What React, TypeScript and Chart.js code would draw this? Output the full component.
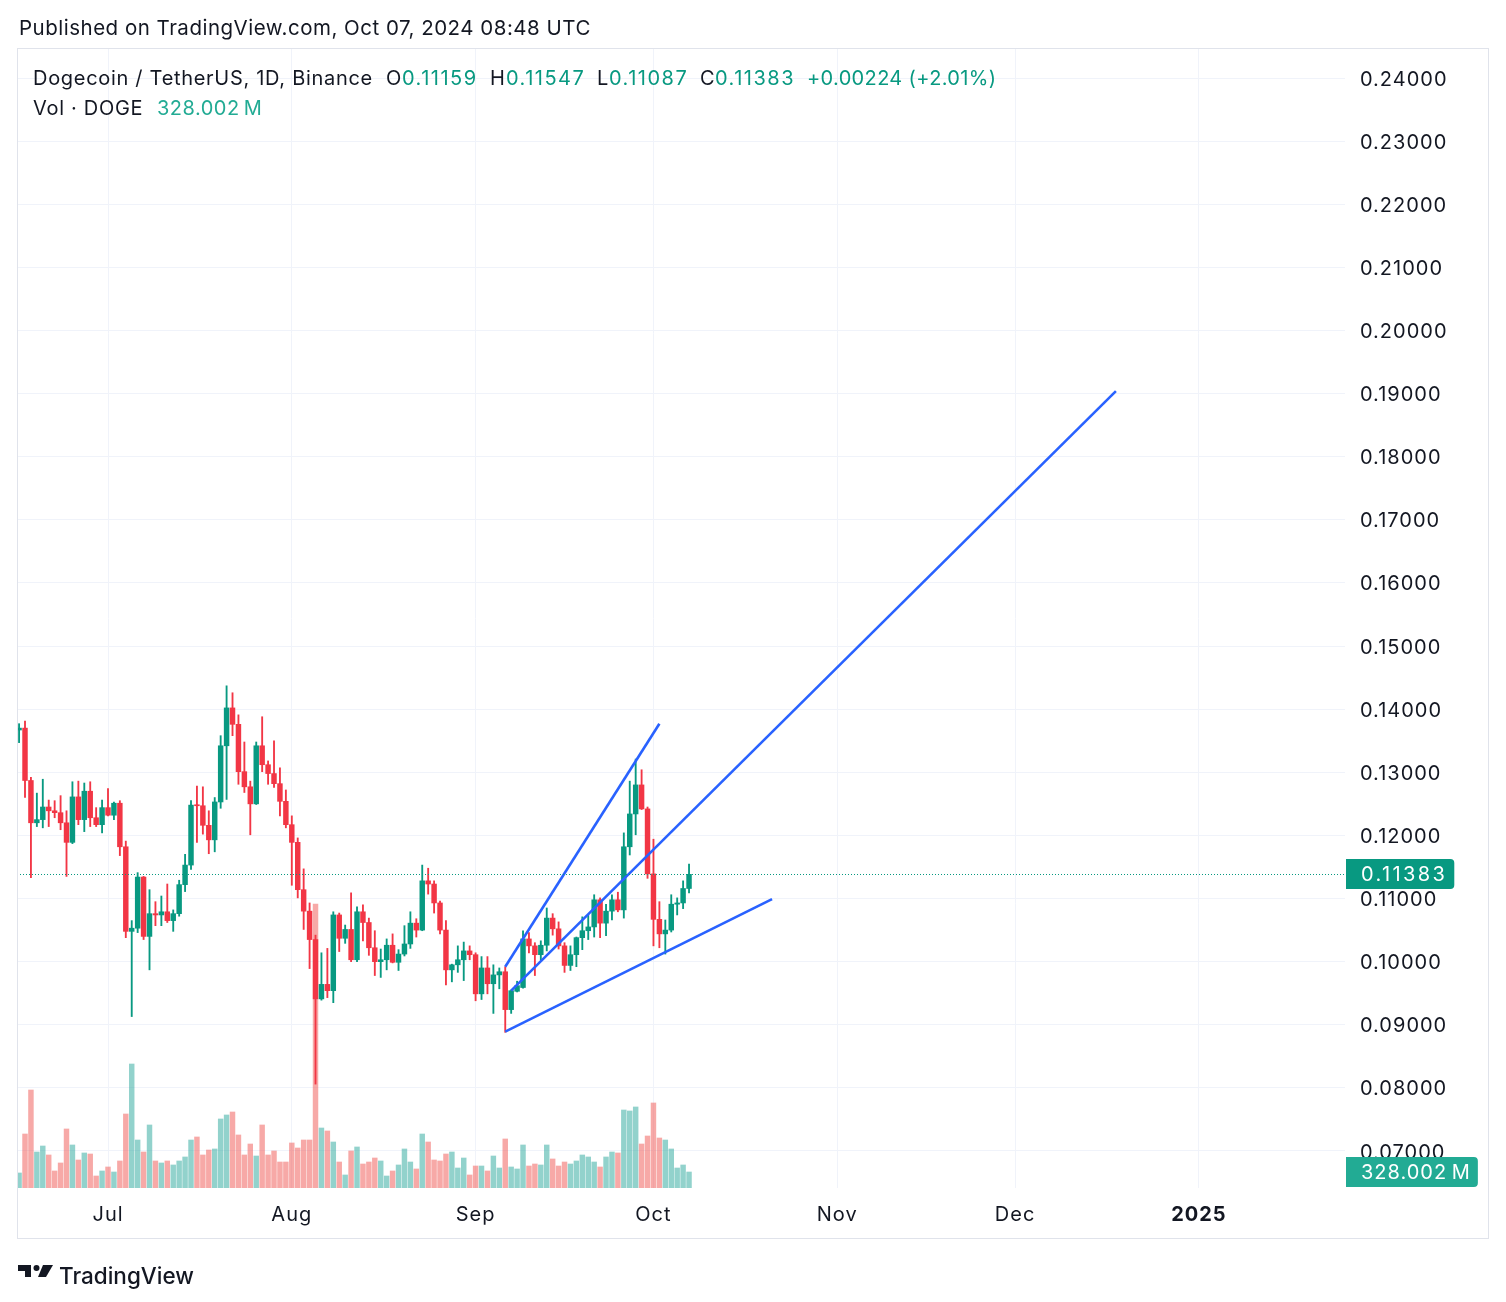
import React, { useEffect, useRef } from "react";
import { Chart, registerables } from "chart.js";

Chart.register(...registerables);

// ---------------- DATA ----------------
const SYMBOL = "Dogecoin / TetherUS, 1D, Binance";
const PUBLISHED = "Published on TradingView.com, Oct 07, 2024 08:48 UTC";
const FIRST_DATE = "2024-06-16";
const REF_DATE = "2024-07-01";

const OPEN = [
  0.1367, 0.1370, 0.1287, 0.1220, 0.1225, 0.1245, 0.1239, 0.1236, 0.1220, 0.1189, 0.1261, 0.1225, 0.1270, 0.1228, 0.1217,
  0.1244, 0.1232, 0.1251, 0.1182, 0.1048, 0.1053, 0.1134, 0.1040, 0.1076, 0.1074, 0.1079, 0.1065, 0.1076, 0.1122, 0.1153,
  0.1248, 0.1247, 0.1216, 0.1193, 0.1253, 0.1342, 0.1402, 0.1376, 0.1301, 0.1277, 0.1250, 0.1342, 0.1312, 0.1298, 0.1282, 0.1254,
  0.1217, 0.1189, 0.1114, 0.1080, 0.1035, 0.0941, 0.0964, 0.0954, 0.1074, 0.1037, 0.1051, 0.1003, 0.1079, 0.1062, 0.1022,
  0.1000, 0.1003, 0.1026, 0.0999, 0.1012, 0.1028, 0.1061, 0.1050, 0.1128, 0.1123, 0.1093, 0.1050, 0.0987, 0.0995, 0.1003, 0.1017,
  0.1011, 0.0949, 0.0990, 0.0965, 0.0979, 0.0984, 0.0924, 0.0953, 0.0959, 0.1036, 0.1025, 0.1011, 0.1026, 0.1069, 0.1052,
  0.1025, 0.0994, 0.1011, 0.1038, 0.1049, 0.1055, 0.1098, 0.1061, 0.1080, 0.1098, 0.1082, 0.1182, 0.1234, 0.1280, 0.1242,
  0.1139, 0.1067, 0.1044, 0.1050, 0.1091, 0.1093, 0.11159,
];
const HIGH = [
  0.1377, 0.1381, 0.1292, 0.1267, 0.1289, 0.1256, 0.1255, 0.1263, 0.1239, 0.1285, 0.1286, 0.1283, 0.1285, 0.1244, 0.1256,
  0.1274, 0.1253, 0.1255, 0.1191, 0.1065, 0.1141, 0.1135, 0.1114, 0.1095, 0.1104, 0.1123, 0.1082, 0.1129, 0.1170, 0.1255,
  0.1278, 0.1277, 0.1239, 0.1260, 0.1358, 0.1437, 0.1426, 0.1391, 0.1348, 0.1286, 0.1348, 0.1388, 0.1318, 0.1350, 0.1307, 0.1272,
  0.1231, 0.1196, 0.1147, 0.1093, 0.1042, 0.1014, 0.1021, 0.1079, 0.1077, 0.1058, 0.1109, 0.1087, 0.1090, 0.1069, 0.1049,
  0.1020, 0.1036, 0.1044, 0.1019, 0.1057, 0.1079, 0.1068, 0.1153, 0.1148, 0.1128, 0.1096, 0.1065, 0.0996, 0.1025, 0.1031, 0.1025,
  0.1014, 0.1008, 0.1008, 0.0995, 0.0990, 0.0992, 0.0955, 0.0969, 0.1049, 0.1046, 0.1030, 0.1033, 0.1085, 0.1076, 0.1063,
  0.1030, 0.1025, 0.1039, 0.1071, 0.1074, 0.1106, 0.1101, 0.1091, 0.1106, 0.1110, 0.1204, 0.1286, 0.1321, 0.1304, 0.1245,
  0.1194, 0.1095, 0.1066, 0.1106, 0.1101, 0.1128, 0.11547,
];
const LOW = [
  0.1347, 0.1260, 0.1133, 0.1214, 0.1212, 0.1214, 0.1228, 0.1209, 0.1135, 0.1187, 0.1217, 0.1206, 0.1214, 0.1214, 0.1204,
  0.1231, 0.1225, 0.1168, 0.1038, 0.0913, 0.1046, 0.1035, 0.0987, 0.1057, 0.1057, 0.1062, 0.1048, 0.1072, 0.1111, 0.1146,
  0.1189, 0.1202, 0.1171, 0.1174, 0.1243, 0.1257, 0.1358, 0.1281, 0.1268, 0.1201, 0.1249, 0.1301, 0.1281, 0.1276, 0.1231, 0.1212,
  0.1121, 0.1101, 0.1051, 0.0989, 0.0806, 0.0939, 0.0943, 0.0935, 0.1016, 0.1029, 0.1000, 0.1000, 0.1033, 0.1010, 0.0978,
  0.0975, 0.0987, 0.0998, 0.0986, 0.1009, 0.1021, 0.1039, 0.1049, 0.1107, 0.1077, 0.1044, 0.0963, 0.0968, 0.0983, 0.0970, 0.1003,
  0.0938, 0.0940, 0.0949, 0.0918, 0.0957, 0.0888, 0.0918, 0.0952, 0.0958, 0.1014, 0.0978, 0.1003, 0.1017, 0.1042, 0.1020,
  0.0983, 0.0986, 0.0992, 0.1019, 0.1035, 0.1039, 0.1038, 0.1041, 0.1066, 0.1079, 0.1069, 0.1169, 0.1201, 0.1241, 0.1132,
  0.1025, 0.1022, 0.1012, 0.1047, 0.1074, 0.1084, 0.11087,
];
const CLOSE = [
  0.1370, 0.1287, 0.1220, 0.1225, 0.1245, 0.1239, 0.1236, 0.1220, 0.1189, 0.1261, 0.1225, 0.1270, 0.1228, 0.1217, 0.1244,
  0.1232, 0.1251, 0.1182, 0.1048, 0.1053, 0.1134, 0.1040, 0.1076, 0.1074, 0.1079, 0.1065, 0.1076, 0.1122, 0.1153, 0.1248,
  0.1247, 0.1216, 0.1193, 0.1253, 0.1342, 0.1402, 0.1376, 0.1301, 0.1277, 0.1250, 0.1342, 0.1312, 0.1298, 0.1282, 0.1254, 0.1217,
  0.1189, 0.1114, 0.1080, 0.1035, 0.0941, 0.0964, 0.0954, 0.1074, 0.1037, 0.1051, 0.1003, 0.1079, 0.1062, 0.1022, 0.1000,
  0.1003, 0.1026, 0.0999, 0.1012, 0.1028, 0.1061, 0.1050, 0.1128, 0.1123, 0.1093, 0.1050, 0.0987, 0.0995, 0.1003, 0.1017, 0.1011,
  0.0949, 0.0990, 0.0965, 0.0979, 0.0984, 0.0924, 0.0954, 0.0962, 0.1036, 0.1025, 0.1011, 0.1026, 0.1069, 0.1052, 0.1025,
  0.0994, 0.1011, 0.1038, 0.1049, 0.1055, 0.1098, 0.1061, 0.1080, 0.1098, 0.1082, 0.1182, 0.1234, 0.1280, 0.1242, 0.1139,
  0.1067, 0.1044, 0.1050, 0.1091, 0.1093, 0.11159, 0.11383,
];
// Volume in millions of DOGE
const VOLUME_M = [
  308, 1107, 2009, 738, 861, 677, 349, 513, 1210, 882, 574, 718, 697, 246, 349,
  431, 328, 554, 1517, 2542, 984, 738, 1292, 554, 513, 554, 472, 554, 636, 984,
  1046, 677, 779, 800, 1415, 1497, 1558, 1087, 677, 902, 656, 1292, 677, 759, 533, 533,
  923, 820, 984, 984, 5822, 1230, 1169, 943, 533, 267, 759, 841, 492, 533, 615,
  554, 246, 349, 472, 800, 533, 390, 1107, 943, 574, 554, 697, 738, 410, 615, 267,
  451, 451, 349, 656, 410, 1005, 431, 390, 882, 451, 492, 472, 882, 595, 451,
  533, 492, 554, 677, 636, 533, 431, 636, 738, 718, 1599, 1579, 1661, 902, 1066,
  1743, 1025, 984, 800, 410, 472, 328.002,
];

const PRICE_TICKS = [0.07, 0.08, 0.09, 0.1, 0.11, 0.12, 0.13, 0.14, 0.15, 0.16, 0.17, 0.18, 0.19, 0.2, 0.21, 0.22, 0.23, 0.24];
const MONTH_TICKS = ["2024-07-01", "2024-08-01", "2024-09-01", "2024-10-01", "2024-11-01", "2024-12-01", "2025-01-01"];
const MONTH_LABELS = ["Jul", "Aug", "Sep", "Oct", "Nov", "Dec", "2025"];

const TRENDLINE_UPPER = [
  { date: "2024-09-06", price: 0.0992 },
  { date: "2024-10-02", price: 0.1377 },
];
const TRENDLINE_MIDDLE = [
  { date: "2024-09-07", price: 0.0954 },
  { date: "2024-12-18", price: 0.1904 },
];
const TRENDLINE_LOWER = [
  { date: "2024-09-06", price: 0.0889 },
  { date: "2024-10-21", price: 0.1099 },
];

// ---------------- STYLE / VIEW ----------------
const FONT = 'Inter, "Noto Sans", Roboto, sans-serif';
const TEXT = "#131722";
const UP = "#089981";
const DOWN = "#f23645";
const VOL_UP = "rgba(38,166,154,0.5)";
const VOL_DOWN = "rgba(239,83,80,0.5)";
const VOL_TAG = "#22ab94";
const LINE_BLUE = "#2962ff";
const GRID = "#f0f3fa";

const X_MIN = -15.35;
const X_MAX = 208.64;
const Y_MIN = 0.0641379;
const Y_MAX = 0.2445946;
const VOL_MAX = 23350;

const DAY = 86400000;
const dayOf = (d: string) => (Date.parse(d) - Date.parse(REF_DATE)) / DAY;

function drawTag(ctx: CanvasRenderingContext2D, x: number, y: number, text: string, color: string, spacing: number) {
  ctx.font = `20px ${FONT}`;
  (ctx as any).letterSpacing = `${spacing}px`;
  const w = ctx.measureText(text).width + 22;
  const h = 30;
  const top = Math.round(y - h / 2);
  ctx.fillStyle = color;
  ctx.beginPath();
  (ctx as any).roundRect(x, top, w, h, [0, 4, 4, 0]);
  ctx.fill();
  ctx.fillStyle = "#ffffff";
  ctx.textAlign = "left";
  ctx.textBaseline = "middle";
  ctx.fillText(text, x + 15, top + h / 2 + 1);
}

const overlayPlugin = {
  id: "tvOverlay",
  beforeDraw(chart: any) {
    (chart.ctx as any).letterSpacing = "1px";
  },
  afterDatasetsDraw(chart: any) {
    const { ctx, chartArea, scales } = chart;
    const last = CLOSE.length - 1;
    const py = Math.round(scales.y.getPixelForValue(CLOSE[last])) + 0.5;
    ctx.save();
    ctx.strokeStyle = UP;
    ctx.lineWidth = 1;
    ctx.setLineDash([1, 2]);
    ctx.beginPath();
    ctx.moveTo(chartArea.left, py);
    ctx.lineTo(chartArea.right, py);
    ctx.stroke();
    ctx.restore();
  },
  afterDraw(chart: any) {
    const { ctx, chartArea, scales } = chart;
    const last = CLOSE.length - 1;
    ctx.save();
    const py = scales.y.getPixelForValue(CLOSE[last]);
    drawTag(ctx, chartArea.right + 1, py, CLOSE[last].toFixed(5), UP, 2.4);
    const vy = scales.yv.getPixelForValue(VOLUME_M[last]);
    drawTag(ctx, chartArea.right + 1, vy, VOLUME_M[last].toFixed(3) + "\u202FM", VOL_TAG, 1);
    ctx.restore();
  },
};

function Txt(props: {
  x: number;
  base: number;
  size: number;
  color?: string;
  weight?: number;
  spacing?: number;
  children: any;
}) {
  const { x, base, size, color = TEXT, weight = 400, spacing = 0, children } = props;
  return (
    <div
      style={{
        position: "absolute",
        left: x,
        top: base - 0.8633 * size,
        fontSize: size,
        lineHeight: `${size}px`,
        color,
        fontWeight: weight,
        letterSpacing: spacing,
        whiteSpace: "nowrap",
        fontFamily: FONT,
      }}
    >
      {children}
    </div>
  );
}

export default function App() {
  const ref = useRef<HTMLCanvasElement>(null);

  useEffect(() => {
    const start = dayOf(FIRST_DATE);
    const xs = OPEN.map((_, i) => start + i);
    const up = CLOSE.map((c, i) => c >= OPEN[i]);
    const line = (pts: { date: string; price: number }[]) => ({
      type: "line" as const,
      data: pts.map((p) => ({ x: dayOf(p.date), y: p.price })),
      borderColor: LINE_BLUE,
      borderWidth: 2.6,
      pointRadius: 0,
      fill: false,
      order: 0,
      yAxisID: "y",
      xAxisID: "x",
    });

    const chart = new Chart(ref.current as HTMLCanvasElement, {
      type: "bar",
      data: {
        datasets: [
          {
            type: "bar",
            data: xs.map((x, i) => ({ x, y: VOLUME_M[i] })) as any,
            backgroundColor: up.map((u) => (u ? VOL_UP : VOL_DOWN)),
            barThickness: 4.8,
            grouped: false,
            order: 3,
            yAxisID: "yv",
            xAxisID: "x",
          },
          {
            type: "bar",
            data: xs.map((x, i) => ({ x, y: [LOW[i], HIGH[i]] })) as any,
            backgroundColor: up.map((u) => (u ? UP : DOWN)),
            barThickness: 1.2,
            grouped: false,
            order: 2,
            yAxisID: "y",
            xAxisID: "x",
          },
          {
            type: "bar",
            data: xs.map((x, i) => ({ x, y: [OPEN[i], CLOSE[i]] })) as any,
            backgroundColor: up.map((u) => (u ? UP : DOWN)),
            barThickness: 4.8,
            minBarLength: 1,
            grouped: false,
            order: 1,
            yAxisID: "y",
            xAxisID: "x",
          },
          line(TRENDLINE_UPPER),
          line(TRENDLINE_MIDDLE),
          line(TRENDLINE_LOWER),
        ] as any,
      },
      options: {
        animation: false,
        responsive: false,
        devicePixelRatio: 1,
        events: [],
        layout: { padding: { left: 17, top: 49, right: 18, bottom: 64 } },
        plugins: { legend: { display: false }, tooltip: { enabled: false } },
        scales: {
          x: {
            type: "linear",
            min: X_MIN,
            max: X_MAX,
            offset: false,
            grid: { color: GRID, drawTicks: false, offset: false, lineWidth: 1 },
            border: { display: false },
            afterBuildTicks: (s: any) => {
              s.ticks = MONTH_TICKS.map((d) => ({ value: dayOf(d) }));
            },
            afterFit: (s: any) => {
              s.height = 50;
            },
            ticks: {
              autoSkip: false,
              maxRotation: 0,
              color: TEXT,
              padding: 15,
              callback: (_v: any, i: number) => MONTH_LABELS[i],
              font: (c: any) => ({ family: FONT, size: 20, weight: c.index === 6 ? "bold" : "normal" }),
            },
          },
          y: {
            type: "linear",
            position: "right",
            min: Y_MIN,
            max: Y_MAX,
            grid: { color: GRID, drawTicks: false, lineWidth: 1 },
            border: { display: false },
            afterBuildTicks: (s: any) => {
              s.ticks = PRICE_TICKS.map((v) => ({ value: v }));
            },
            afterFit: (s: any) => {
              s.width = 143;
            },
            ticks: {
              color: TEXT,
              padding: 15,
              labelOffset: 1.5,
              font: { family: FONT, size: 20 },
              callback: (v: any) => Number(v).toFixed(5),
            },
          },
          yv: {
            type: "linear",
            display: false,
            min: 0,
            max: VOL_MAX,
          },
        },
      } as any,
      plugins: [overlayPlugin],
    });
    return () => chart.destroy();
  }, []);

  const lastI = CLOSE.length - 1;
  const chg = CLOSE[lastI] - CLOSE[lastI - 1];
  const chgPct = (chg / CLOSE[lastI - 1]) * 100;
  const L1 = 85;
  const L2 = 115;

  return (
    <div
      style={{
        position: "absolute",
        left: 0,
        top: 0,
        width: 1506,
        height: 1302,
        background: "#ffffff",
        overflow: "hidden",
        fontFamily: FONT,
      }}
    >
      <canvas ref={ref} width={1506} height={1302} style={{ position: "absolute", left: 0, top: 0 }} />
      <div
        style={{
          position: "absolute",
          left: 17,
          top: 48,
          width: 1472,
          height: 1191,
          boxSizing: "border-box",
          border: "1px solid #e0e3eb",
          pointerEvents: "none",
        }}
      />
      <Txt x={19} base={36} size={20.5} spacing={0.5}>{PUBLISHED}</Txt>

      <Txt x={33} base={L1} size={20} spacing={0.7}>{SYMBOL}</Txt>
      <Txt x={386} base={L1} size={20}>O</Txt>
      <Txt x={402} base={L1} size={20} color={UP} spacing={1.5}>{OPEN[lastI].toFixed(5)}</Txt>
      <Txt x={490} base={L1} size={20}>H</Txt>
      <Txt x={506} base={L1} size={20} color={UP} spacing={1.5}>{HIGH[lastI].toFixed(5)}</Txt>
      <Txt x={597} base={L1} size={20}>L</Txt>
      <Txt x={609} base={L1} size={20} color={UP} spacing={1.5}>{LOW[lastI].toFixed(5)}</Txt>
      <Txt x={700} base={L1} size={20}>C</Txt>
      <Txt x={715} base={L1} size={20} color={UP} spacing={1.5}>{CLOSE[lastI].toFixed(5)}</Txt>
      <Txt x={807} base={L1} size={20} color={UP} spacing={0.35}>
        {"+" + chg.toFixed(5) + " (+" + chgPct.toFixed(2) + "%)"}
      </Txt>

      <Txt x={33} base={L2} size={20} spacing={0.7}>Vol · DOGE</Txt>
      <Txt x={157} base={L2} size={20} color={VOL_TAG} spacing={0.5}>
        {VOLUME_M[lastI].toFixed(3) + "\u202FM"}
      </Txt>

      <svg width={40} height={20} viewBox="0 0 40 20" style={{ position: "absolute", left: 17, top: 1262 }}>
        <path d="M1 3 H14 V15 H8 V9 H1 Z" fill={TEXT} />
        <circle cx="19.5" cy="6" r="3" fill={TEXT} />
        <path d="M26 3 H36 L29 15 H21 Z" fill={TEXT} />
      </svg>
      <Txt x={59} base={1284} size={22.5} weight={500}>TradingView</Txt>
    </div>
  );
}
